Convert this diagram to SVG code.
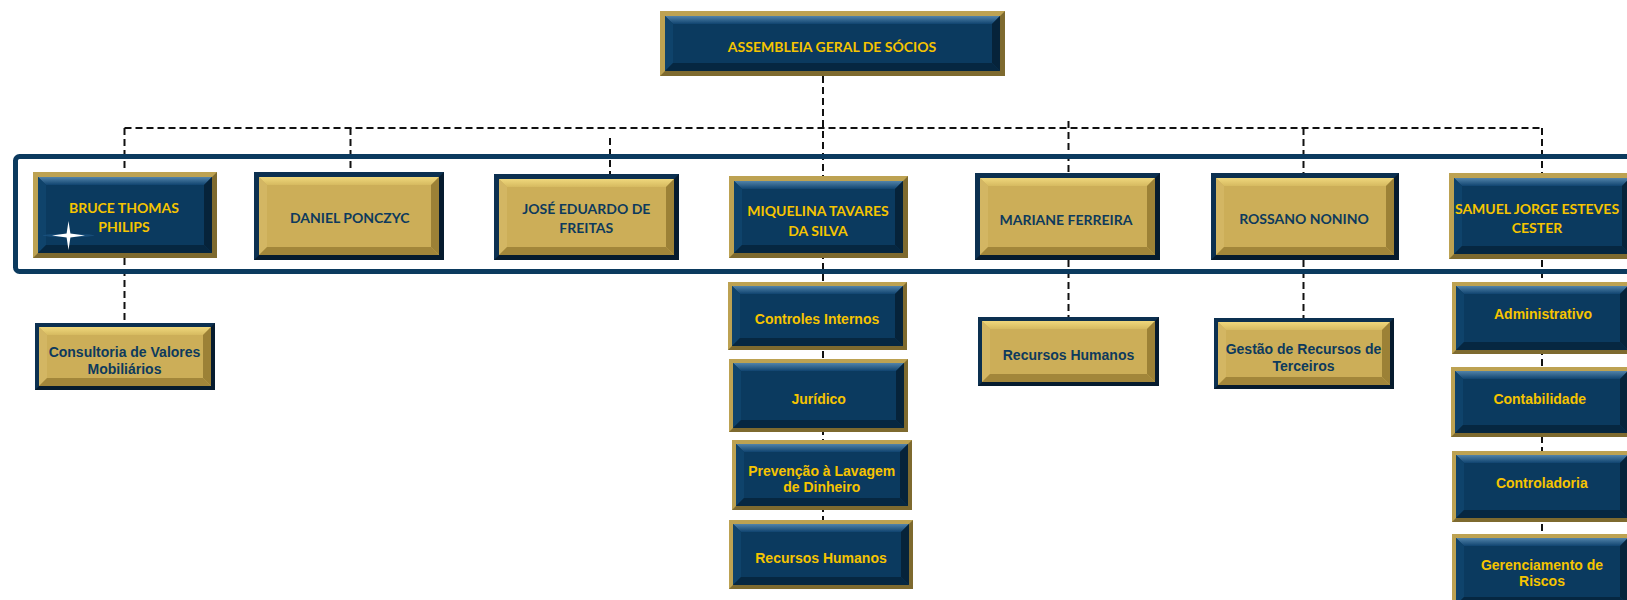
<svg xmlns="http://www.w3.org/2000/svg" width="1627" height="600" viewBox="0 0 1627 600">
<defs>
<linearGradient id="nTop" x1="0" y1="0" x2="0" y2="1"><stop offset="0" stop-color="#5283A9"/><stop offset="1" stop-color="#104470"/></linearGradient>
<linearGradient id="gTop" x1="0" y1="0" x2="0" y2="1"><stop offset="0" stop-color="#EFD77C"/><stop offset="1" stop-color="#D6BA60"/></linearGradient>
<style>
.n .ob{fill:#BDA252}.n .obd{fill:#7E6A2F}.n .in{fill:#0B3A5F}.n .bt{fill:url(#nTop)}.n .bl{fill:#0F436B}.n .br{fill:#06233A}.n .bb{fill:#062741}
.g .ob{fill:#0C3050}.g .obd{fill:#061B2E}.g .in{fill:#CCAE58}.g .bt{fill:url(#gTop)}.g .bl{fill:#D3B663}.g .br{fill:#9C8136}.g .bb{fill:#A2863A}
.n text{fill:#F6C400}.g text{fill:#0D3A5D}
.nm{font-family:Lato,"Open Sans",sans-serif;font-weight:700;font-size:14px;text-anchor:middle}
.sb{font-family:"Liberation Sans",Arial,sans-serif;font-weight:700;font-size:14px;text-anchor:middle}
.cn{fill:none;stroke:#111;stroke-width:2;stroke-dasharray:7 4}
.frame{fill:none;stroke:#0B3A5E;stroke-width:5}
</style>
</defs>
<rect width="1627" height="600" fill="#ffffff"/>
<g id="connectors">
<path class="cn" d="M823,76 V520"/>
<path class="cn" d="M124.5,128 H1542"/>
<path class="cn" d="M124.5,128 V172 M124.5,258 V323"/>
<path class="cn" d="M350.5,128 V172"/>
<path class="cn" d="M610,138 V174"/>
<path class="cn" d="M1068.5,121 V173 M1068.5,260 V317"/>
<path class="cn" d="M1303.5,128 V173 M1303.5,260 V318"/>
<path class="cn" d="M1542,128 V534"/>
</g>
<rect id="frame" class="frame" x="15.5" y="156.5" width="1700" height="115" rx="4"/>

<g id="asm" class="n" transform="translate(660,11)">
<rect class="ob" width="345" height="65"/>
<polygon class="obd" points="345,0 345,65 0,65 5,60 340,60 340,5"/>
<rect class="in" x="5" y="5" width="335" height="55"/>
<polygon class="bt" points="5,5 340,5 332,13 13,13"/>
<polygon class="bl" points="5,5 13,13 13,52 5,60"/>
<polygon class="br" points="340,5 340,60 332,52 332,13"/>
<polygon class="bb" points="5,60 340,60 332,52 13,52"/>
<text class="nm" x="172" y="41">ASSEMBLEIA GERAL DE SÓCIOS</text>
</g>

<g id="bruce" class="n" transform="translate(33,172)">
<rect class="ob" width="184" height="86"/>
<polygon class="obd" points="184,0 184,86 0,86 5,81 179,81 179,5"/>
<rect class="in" x="5" y="5" width="174" height="76"/>
<polygon class="bt" points="5,5 179,5 171,13 13,13"/>
<polygon class="bl" points="5,5 13,13 13,73 5,81"/>
<polygon class="br" points="179,5 179,81 171,73 171,13"/>
<polygon class="bb" points="5,81 179,81 171,73 13,73"/>
<text class="nm" x="91" y="40.5">BRUCE THOMAS</text>
<text class="nm" x="91" y="60">PHILIPS</text>
<ellipse cx="35.5" cy="63.5" rx="26" ry="1.6" fill="#1D5684" opacity="0.7"/>
<path d="M35.5,49 L37.4,61.6 L52,63.5 L37.4,65.4 L35.5,78 L33.6,65.4 L19,63.5 L33.6,61.6 Z" fill="#ffffff"/>
</g>

<g id="daniel" class="g" transform="translate(254,172)">
<rect class="ob" width="190" height="88"/>
<polygon class="obd" points="190,0 190,88 0,88 5,83 185,83 185,5"/>
<rect class="in" x="5" y="5" width="180" height="78"/>
<polygon class="bt" points="5,5 185,5 177,13 13,13"/>
<polygon class="bl" points="5,5 13,13 13,75 5,83"/>
<polygon class="br" points="185,5 185,83 177,75 177,13"/>
<polygon class="bb" points="5,83 185,83 177,75 13,75"/>
<text class="nm" x="95.7" y="51">DANIEL PONCZYC</text>
</g>

<g id="jose" class="g" transform="translate(494,174)">
<rect class="ob" width="185" height="86"/>
<polygon class="obd" points="185,0 185,86 0,86 5,81 180,81 180,5"/>
<rect class="in" x="5" y="5" width="175" height="76"/>
<polygon class="bt" points="5,5 180,5 172,13 13,13"/>
<polygon class="bl" points="5,5 13,13 13,73 5,81"/>
<polygon class="br" points="180,5 180,81 172,73 172,13"/>
<polygon class="bb" points="5,81 180,81 172,73 13,73"/>
<text class="nm" x="92.3" y="39.6">JOSÉ EDUARDO DE</text>
<text class="nm" x="92.3" y="59.3">FREITAS</text>
</g>

<g id="miquelina" class="n" transform="translate(729,176)">
<rect class="ob" width="179" height="82"/>
<polygon class="obd" points="179,0 179,82 0,82 5,77 174,77 174,5"/>
<rect class="in" x="5" y="5" width="169" height="72"/>
<polygon class="bt" points="5,5 174,5 166,13 13,13"/>
<polygon class="bl" points="5,5 13,13 13,69 5,77"/>
<polygon class="br" points="174,5 174,77 166,69 166,13"/>
<polygon class="bb" points="5,77 174,77 166,69 13,69"/>
<text class="nm" x="89" y="40">MIQUELINA TAVARES</text>
<text class="nm" x="89" y="59.5">DA SILVA</text>
</g>

<g id="mariane" class="g" transform="translate(975,173)">
<rect class="ob" width="185" height="87"/>
<polygon class="obd" points="185,0 185,87 0,87 5,82 180,82 180,5"/>
<rect class="in" x="5" y="5" width="175" height="77"/>
<polygon class="bt" points="5,5 180,5 172,13 13,13"/>
<polygon class="bl" points="5,5 13,13 13,74 5,82"/>
<polygon class="br" points="180,5 180,82 172,74 172,13"/>
<polygon class="bb" points="5,82 180,82 172,74 13,74"/>
<text class="nm" x="91" y="52">MARIANE FERREIRA</text>
</g>

<g id="rossano" class="g" transform="translate(1211,173)">
<rect class="ob" width="188" height="87"/>
<polygon class="obd" points="188,0 188,87 0,87 5,82 183,82 183,5"/>
<rect class="in" x="5" y="5" width="178" height="77"/>
<polygon class="bt" points="5,5 183,5 175,13 13,13"/>
<polygon class="bl" points="5,5 13,13 13,74 5,82"/>
<polygon class="br" points="183,5 183,82 175,74 175,13"/>
<polygon class="bb" points="5,82 183,82 175,74 13,74"/>
<text class="nm" x="93" y="51">ROSSANO NONINO</text>
</g>

<g id="samuel" class="n" transform="translate(1449,173)">
<rect class="ob" width="186" height="86"/>
<polygon class="obd" points="186,0 186,86 0,86 5,81 181,81 181,5"/>
<rect class="in" x="5" y="5" width="176" height="76"/>
<polygon class="bt" points="5,5 181,5 173,13 13,13"/>
<polygon class="bl" points="5,5 13,13 13,73 5,81"/>
<polygon class="br" points="181,5 181,81 173,73 173,13"/>
<polygon class="bb" points="5,81 181,81 173,73 13,73"/>
<text class="nm" x="88" y="40.6">SAMUEL JORGE ESTEVES</text>
<text class="nm" x="88" y="60.3">CESTER</text>
</g>

<g id="consultoria" class="g" transform="translate(35,323)">
<rect class="ob" width="180" height="67"/>
<polygon class="obd" points="180,0 180,67 0,67 4,63 176,63 176,4"/>
<rect class="in" x="4" y="4" width="172" height="59"/>
<polygon class="bt" points="4,4 176,4 168,12 12,12"/>
<polygon class="bl" points="4,4 12,12 12,55 4,63"/>
<polygon class="br" points="176,4 176,63 168,55 168,12"/>
<polygon class="bb" points="4,63 176,63 168,55 12,55"/>
<text class="sb" x="89.5" y="34">Consultoria de Valores</text>
<text class="sb" x="89.5" y="50.5">Mobiliários</text>
</g>

<g id="controles" class="n" transform="translate(728,282)">
<rect class="ob" width="179" height="68"/>
<polygon class="obd" points="179,0 179,68 0,68 4,64 175,64 175,4"/>
<rect class="in" x="4" y="4" width="171" height="60"/>
<polygon class="bt" points="4,4 175,4 167,12 12,12"/>
<polygon class="bl" points="4,4 12,12 12,56 4,64"/>
<polygon class="br" points="175,4 175,64 167,56 167,12"/>
<polygon class="bb" points="4,64 175,64 167,56 12,56"/>
<text class="sb" x="89" y="42">Controles Internos</text>
</g>

<g id="juridico" class="n" transform="translate(729,359)">
<rect class="ob" width="179" height="73"/>
<polygon class="obd" points="179,0 179,73 0,73 4,69 175,69 175,4"/>
<rect class="in" x="4" y="4" width="171" height="65"/>
<polygon class="bt" points="4,4 175,4 167,12 12,12"/>
<polygon class="bl" points="4,4 12,12 12,61 4,69"/>
<polygon class="br" points="175,4 175,69 167,61 167,12"/>
<polygon class="bb" points="4,69 175,69 167,61 12,61"/>
<text class="sb" x="89.7" y="44.5">Jurídico</text>
</g>

<g id="prevencao" class="n" transform="translate(732,440)">
<rect class="ob" width="180" height="70"/>
<polygon class="obd" points="180,0 180,70 0,70 4,66 176,66 176,4"/>
<rect class="in" x="4" y="4" width="172" height="62"/>
<polygon class="bt" points="4,4 176,4 168,12 12,12"/>
<polygon class="bl" points="4,4 12,12 12,58 4,66"/>
<polygon class="br" points="176,4 176,66 168,58 168,12"/>
<polygon class="bb" points="4,66 176,66 168,58 12,58"/>
<text class="sb" x="89.7" y="36">Prevenção à Lavagem</text>
<text class="sb" x="89.7" y="52">de Dinheiro</text>
</g>

<g id="rh-miquelina" class="n" transform="translate(729,520)">
<rect class="ob" width="184" height="69"/>
<polygon class="obd" points="184,0 184,69 0,69 4,65 180,65 180,4"/>
<rect class="in" x="4" y="4" width="176" height="61"/>
<polygon class="bt" points="4,4 180,4 172,12 12,12"/>
<polygon class="bl" points="4,4 12,12 12,57 4,65"/>
<polygon class="br" points="180,4 180,65 172,57 172,12"/>
<polygon class="bb" points="4,65 180,65 172,57 12,57"/>
<text class="sb" x="92" y="42.5">Recursos Humanos</text>
</g>

<g id="rh-mariane" class="g" transform="translate(978,317)">
<rect class="ob" width="181" height="69"/>
<polygon class="obd" points="181,0 181,69 0,69 4,65 177,65 177,4"/>
<rect class="in" x="4" y="4" width="173" height="61"/>
<polygon class="bt" points="4,4 177,4 169,12 12,12"/>
<polygon class="bl" points="4,4 12,12 12,57 4,65"/>
<polygon class="br" points="177,4 177,65 169,57 169,12"/>
<polygon class="bb" points="4,65 177,65 169,57 12,57"/>
<text class="sb" x="90.5" y="42.5">Recursos Humanos</text>
</g>

<g id="gestao" class="g" transform="translate(1214,318)">
<rect class="ob" width="180" height="71"/>
<polygon class="obd" points="180,0 180,71 0,71 4,67 176,67 176,4"/>
<rect class="in" x="4" y="4" width="172" height="63"/>
<polygon class="bt" points="4,4 176,4 168,12 12,12"/>
<polygon class="bl" points="4,4 12,12 12,59 4,67"/>
<polygon class="br" points="176,4 176,67 168,59 168,12"/>
<polygon class="bb" points="4,67 176,67 168,59 12,59"/>
<text class="sb" x="89.5" y="35.5">Gestão de Recursos de</text>
<text class="sb" x="89.5" y="52.5">Terceiros</text>
</g>

<g id="administrativo" class="n" transform="translate(1452,282)">
<rect class="ob" width="180" height="72"/>
<polygon class="obd" points="180,0 180,72 0,72 4,68 176,68 176,4"/>
<rect class="in" x="4" y="4" width="172" height="64"/>
<polygon class="bt" points="4,4 176,4 168,12 12,12"/>
<polygon class="bl" points="4,4 12,12 12,60 4,68"/>
<polygon class="br" points="176,4 176,68 168,60 168,12"/>
<polygon class="bb" points="4,68 176,68 168,60 12,60"/>
<text class="sb" x="91" y="36.5">Administrativo</text>
</g>

<g id="contabilidade" class="n" transform="translate(1451,367)">
<rect class="ob" width="181" height="70"/>
<polygon class="obd" points="181,0 181,70 0,70 4,66 177,66 177,4"/>
<rect class="in" x="4" y="4" width="173" height="62"/>
<polygon class="bt" points="4,4 177,4 169,12 12,12"/>
<polygon class="bl" points="4,4 12,12 12,58 4,66"/>
<polygon class="br" points="177,4 177,66 169,58 169,12"/>
<polygon class="bb" points="4,66 177,66 169,58 12,58"/>
<text class="sb" x="88.7" y="37">Contabilidade</text>
</g>

<g id="controladoria" class="n" transform="translate(1452,451)">
<rect class="ob" width="180" height="71"/>
<polygon class="obd" points="180,0 180,71 0,71 4,67 176,67 176,4"/>
<rect class="in" x="4" y="4" width="172" height="63"/>
<polygon class="bt" points="4,4 176,4 168,12 12,12"/>
<polygon class="bl" points="4,4 12,12 12,59 4,67"/>
<polygon class="br" points="176,4 176,67 168,59 168,12"/>
<polygon class="bb" points="4,67 176,67 168,59 12,59"/>
<text class="sb" x="89.8" y="36.5">Controladoria</text>
</g>

<g id="riscos" class="n" transform="translate(1452,534)">
<rect class="ob" width="180" height="75"/>
<polygon class="obd" points="180,0 180,75 0,75 4,71 176,71 176,4"/>
<rect class="in" x="4" y="4" width="172" height="67"/>
<polygon class="bt" points="4,4 176,4 168,12 12,12"/>
<polygon class="bl" points="4,4 12,12 12,63 4,71"/>
<polygon class="br" points="176,4 176,71 168,63 168,12"/>
<polygon class="bb" points="4,71 176,71 168,63 12,63"/>
<text class="sb" x="90" y="36">Gerenciamento de</text>
<text class="sb" x="90" y="52">Riscos</text>
</g>
</svg>
